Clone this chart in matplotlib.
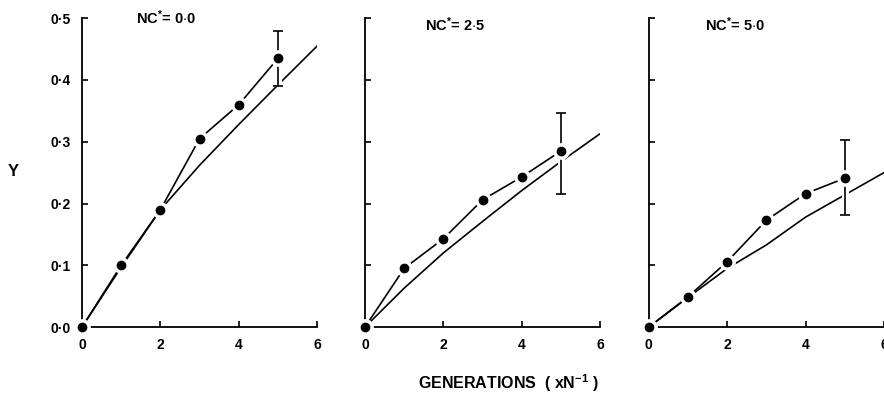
import matplotlib
matplotlib.use("Agg")
import matplotlib.pyplot as plt
import matplotlib.patheffects as pe

plt.rcParams['font.family'] = ['Liberation Sans', 'DejaVu Sans']
plt.rcParams['font.weight'] = 'bold'
plt.rcParams['mathtext.fontset'] = 'custom'
plt.rcParams['mathtext.rm'] = 'Liberation Sans:bold'
plt.rcParams['mathtext.bf'] = 'Liberation Sans:bold'
plt.rcParams['mathtext.it'] = 'Liberation Sans:bold'

# observed values per panel (generations x N^-1)
gen = [0, 1, 2, 3, 4, 5]
obs_00 = [0.0, 0.10, 0.19, 0.305, 0.36, 0.435]
obs_25 = [0.0, 0.095, 0.143, 0.206, 0.243, 0.285]
obs_50 = [0.0, 0.049, 0.106, 0.173, 0.216, 0.241]

# error bar at generation 5 (low, high)
err_00 = (0.39, 0.48)
err_25 = (0.215, 0.347)
err_50 = (0.182, 0.302)

# expected curves
curve_x = [0, 1, 2, 3, 4, 5, 6]
curve_00 = [0.0, 0.097, 0.19, 0.262, 0.328, 0.392, 0.455]
curve_25 = [0.0, 0.063, 0.12, 0.171, 0.221, 0.268, 0.313]
curve_50 = [0.0, 0.048, 0.095, 0.133, 0.178, 0.214, 0.25]

titles = [r"NC$^{*}$= 0$\cdot$0", r"NC$^{*}$= 2$\cdot$5", r"NC$^{*}$= 5$\cdot$0"]
obs = [obs_00, obs_25, obs_50]
errs = [err_00, err_25, err_50]
curves = [curve_00, curve_25, curve_50]

yticks = [0, 0.1, 0.2, 0.3, 0.4, 0.5]
ytick_labels = ['0·0', '0·1', '0·2', '0·3', '0·4', '0·5']
xticks = [0, 2, 4, 6]

fig = plt.figure(figsize=(8.84, 3.95), dpi=100)
lefts = [0.0928, 0.4129, 0.734]
title_x = [1.38, 1.54, 1.44]
title_y = [0.5, 0.49, 0.49]

for i in range(3):
    ax = fig.add_axes([lefts[i], 0.172, 0.266, 0.782])
    ax.plot(curve_x, curves[i], color='black', lw=1.2, zorder=1)
    ax.plot(gen, obs[i], color='black', lw=1.2, zorder=2)
    lo, hi = errs[i]
    mid = obs[i][-1]
    eb = ax.errorbar([gen[-1]], [mid], yerr=[[mid - lo], [hi - mid]], fmt='none',
                     ecolor='black', elinewidth=1.2, capsize=3.5, capthick=1.2, zorder=3)
    for c in eb.lines[2]:
        c.set_path_effects([pe.Stroke(linewidth=5, foreground='white'), pe.Normal()])
    ax.plot(gen, obs[i], 'o', color='white', ms=11, zorder=4, clip_on=False)
    ax.plot(gen, obs[i], 'o', color='black', ms=6, zorder=5, clip_on=False)

    ax.set_xlim(0, 6)
    ax.set_ylim(0, 0.5)
    ax.spines['top'].set_visible(False)
    ax.spines['right'].set_visible(False)
    ax.spines['left'].set_linewidth(1.3)
    ax.spines['bottom'].set_linewidth(1.3)
    ax.set_xticks(xticks)
    ax.set_xticklabels([str(t) for t in xticks], fontsize=10, fontweight='bold')
    ax.set_yticks(yticks)
    if i == 0:
        ax.set_yticklabels(ytick_labels, fontsize=10, fontweight='bold')
    else:
        ax.set_yticklabels([])
    ax.tick_params(direction='in', length=4, width=1.2, pad=8)
    ax.text(title_x[i], title_y[i], titles[i], fontsize=10.5, fontweight='bold', va='center')

fig.text(0.015, 0.565, 'Y', fontsize=12, fontweight='bold', ha='center', va='center')
fig.text(0.575, 0.03, r"GENERATIONS  ( xN$^{-1}$ )", fontsize=11.5, fontweight='bold',
         ha='center', va='center')

fig.savefig('out.png', dpi=100)
